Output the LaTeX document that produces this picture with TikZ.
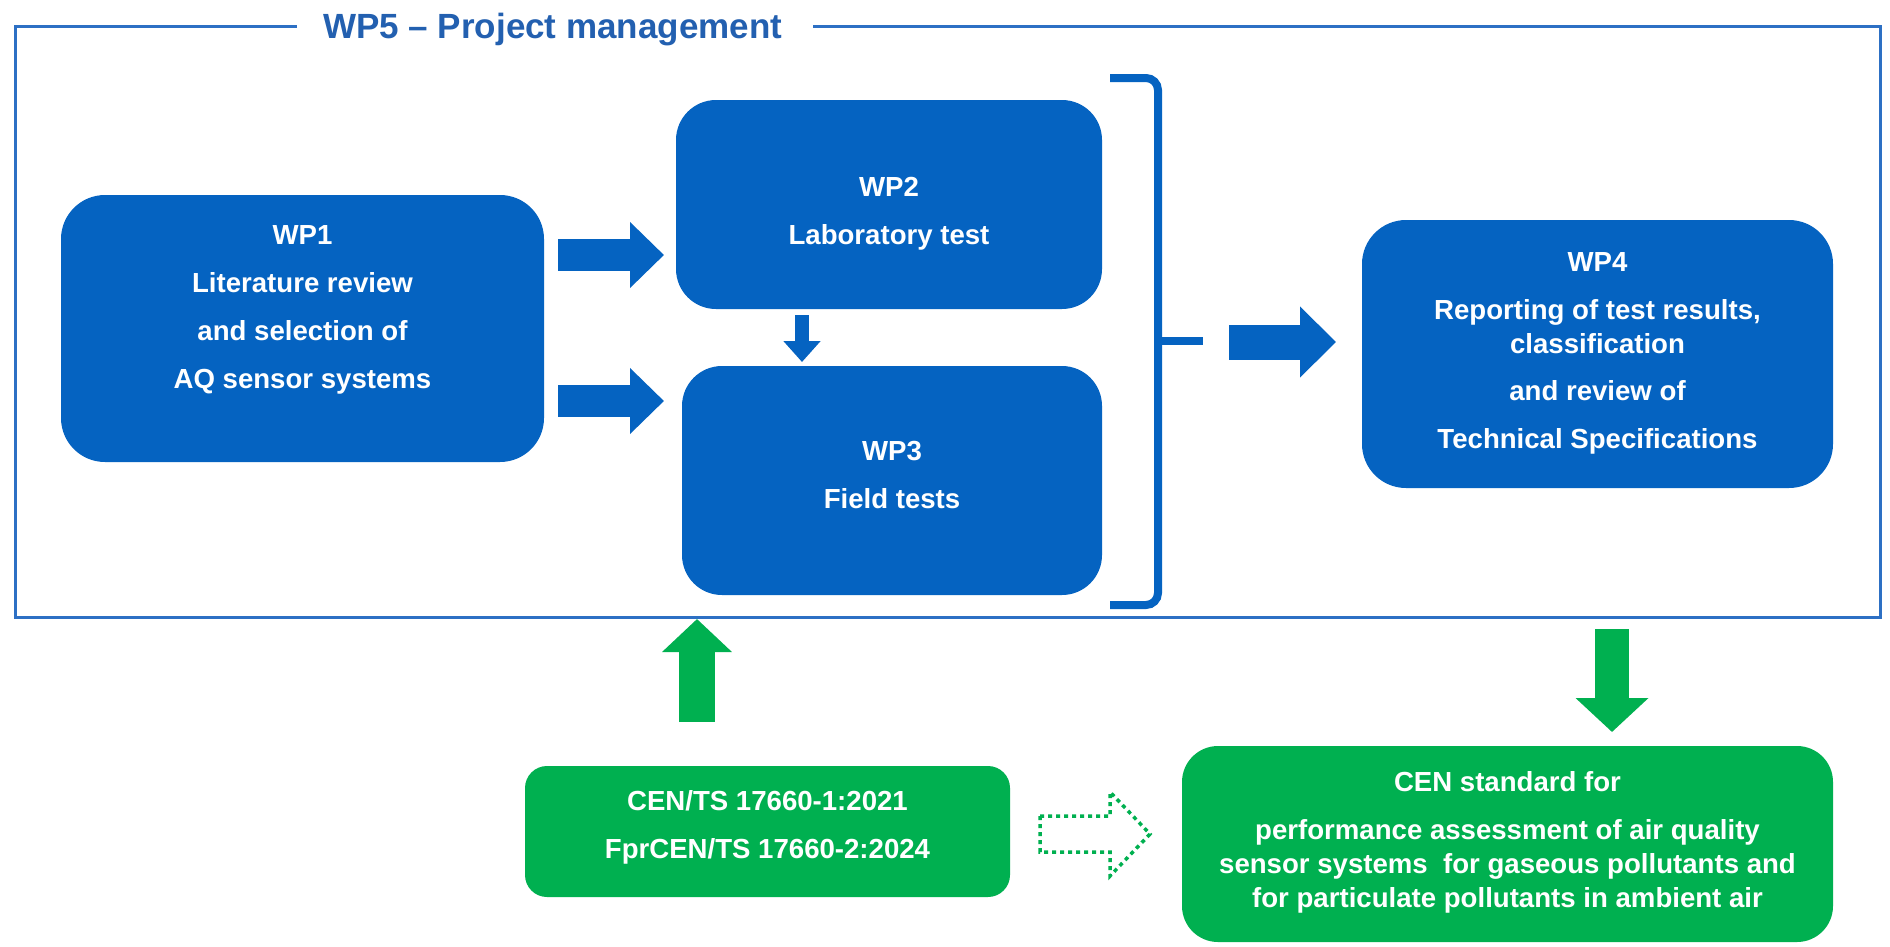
\documentclass[tikz,border=0pt]{standalone}
\usepackage{fontspec}
\setmainfont{Liberation Sans}
\usetikzlibrary{arrows.meta}
\definecolor{wpblue}{RGB}{5,99,193}
\definecolor{frameblue}{RGB}{45,112,196}
\definecolor{titleblue}{RGB}{35,96,176}
\definecolor{cengreen}{RGB}{0,176,80}
\begin{document}
\begin{tikzpicture}[x=1pt,y=-1pt,
  wpbox/.style={fill=wpblue, draw=none, inner sep=0pt, rounded corners=42pt},
  gbox/.style={fill=cengreen, draw=none, inner sep=0pt},
  txt/.style={text=white, font=\bfseries\fontsize{27.6}{34}\selectfont, align=center, anchor=base, inner sep=0pt},
  frameline/.style={draw=frameblue, line width=3pt},
  barrow/.style={draw=wpblue, line width=32pt, -{Triangle[length=34pt,width=64pt]}},
  garrow/.style={draw=cengreen, line width=36pt, -{Triangle[length=33pt,width=68pt]}},
  dotarrow/.style={draw=cengreen, line width=3.5pt, dash pattern=on 4pt off 4pt, line join=miter}
]
\useasboundingbox (0,0) rectangle (1890,946);
\fill[white] (0,0) rectangle (1890,946);

% frame and title
\draw[frameline] (297,26) -- (15,26) -- (15,617) -- (1880,617) -- (1880,26) -- (813,26);
\node[anchor=base west, text=titleblue, font=\bfseries\fontsize{35}{40}\selectfont, inner sep=0pt] (title) at (323,38) {WP5 – Project management};

% boxes
\node[wpbox, minimum width=483pt, minimum height=267pt, rounded corners=44pt] (wp1) at (302.5,328.5) {};
\node[wpbox, minimum width=426pt, minimum height=209pt, rounded corners=40pt] (wp2) at (889,204.5) {};
\node[wpbox, minimum width=420pt, minimum height=229pt, rounded corners=40pt] (wp3) at (892,480.5) {};
\node[wpbox, minimum width=471pt, minimum height=268pt, rounded corners=44pt] (wp4) at (1597.5,354) {};
\node[gbox, minimum width=485pt, minimum height=131pt, rounded corners=22pt] (ts) at (767.5,831.5) {};
\node[gbox, minimum width=651pt, minimum height=196pt, rounded corners=36pt] (cen) at (1507.5,844) {};

% texts (anchor base = baseline of the last line)
\node[txt] (wp1t) at (wp1.center |- 0,388) {WP1\\[14pt]Literature review\\[14pt]and selection of\\[14pt]AQ sensor systems};
\node[txt] (wp2t) at (wp2.center |- 0,244) {WP2\\[14pt]Laboratory test};
\node[txt] (wp3t) at (wp3.center |- 0,508) {WP3\\[14pt]Field tests};
\node[txt] (wp4t) at (wp4.center |- 0,448) {WP4\\[14pt]Reporting of test results,\\classification\\[13pt]and review of\\[14pt]Technical Specifications};
\node[txt] (tst) at (ts.center |- 0,858) {CEN/TS 17660-1:2021\\[14pt]FprCEN/TS 17660-2:2024};
\node[txt] (cent) at (cen.center |- 0,907) {CEN standard for\\[14pt]performance assessment of air quality\\sensor systems \ for gaseous pollutants and\\for particulate pollutants in ambient air};

% bracket grouping WP2 and WP3
\draw[wpblue, line width=8pt, rounded corners=12pt] (1110,78) -- (1158,78) -- (1158,605) -- (1110,605);
\draw[wpblue, line width=8pt] (1158,341) -- (1203,341);

% arrow end points
\coordinate (a1s) at (558,255);  \coordinate (a1e) at (664,255);
\coordinate (a2s) at (558,401);  \coordinate (a2e) at (664,401);
\coordinate (a3s) at (802,315);  \coordinate (a3e) at (802,362);
\coordinate (a4s) at (1229,342); \coordinate (a4e) at (1336,342);
\coordinate (g1s) at (697,722);  \coordinate (g1e) at (697,619);
\coordinate (g2s) at (1612,629); \coordinate (g2e) at (1612,732);

\draw[barrow] (a1s) -- (a1e);
\draw[barrow] (a2s) -- (a2e);
\draw[barrow, line width=14pt, -{Triangle[length=21pt,width=36pt]}] (a3s) -- (a3e);
\draw[barrow, line width=35pt, -{Triangle[length=36pt,width=69pt]}] (a4s) -- (a4e);
\draw[garrow] (g1s) -- (g1e);
\draw[garrow, line width=34pt, -{Triangle[length=34pt,width=71pt]}] (g2s) -- (g2e);

% dotted outline arrow
\coordinate (d0) at (1040,834);
\draw[dotarrow] (d0) ++(0,-18) -- ++(70,0) -- ++(0,-24) -- ++(40,42) -- ++(-40,42) -- ++(0,-24) -- ++(-70,0) -- cycle;
\end{tikzpicture}
\end{document}
